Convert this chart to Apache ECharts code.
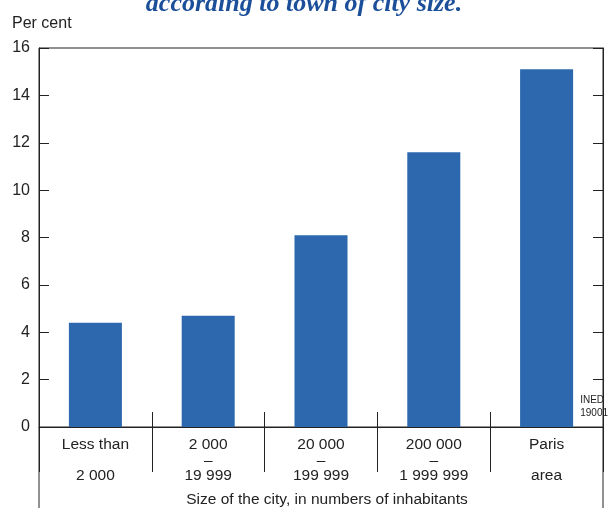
<!DOCTYPE html>
<html><head><meta charset="utf-8">
<script src="https://cdn.jsdelivr.net/npm/echarts@6/dist/echarts.min.js"></script>
<style>html,body{margin:0;padding:0;background:#fff}#c{width:608px;height:508px}</style>
</head><body><div id="c"></div>
<script>
const catTop = ['Less than', '2 000', '20 000', '200 000', 'Paris'];
const catMid = ['', '–', '–', '–', ''];
const catBottom = ['2 000', '19 999', '199 999', '1 999 999', 'area'];
const values = [4.4, 4.7, 8.1, 11.6, 15.1];
const yTicks = [0, 2, 4, 6, 8, 10, 12, 14, 16];
const titleText = 'according to town of city size.';
const yName = 'Per cent';
const xName = 'Size of the city, in numbers of inhabitants';
const sourceText = 'INED\n19001';

const categories = catTop.map((t, i) => t + '\n' + catMid[i] + '\n' + catBottom[i]);
const FONT = '"Liberation Sans", Arial, sans-serif';
const INK = '#222';

const chart = echarts.init(document.getElementById('c'));
chart.setOption({
  animation: false,
  title: {
    text: titleText, left: 'center', top: -14,
    textStyle: { fontFamily: '"Liberation Serif", "DejaVu Serif", serif', fontStyle: 'italic', fontWeight: 'bold', fontSize: 26, color: '#1c4f9a' }
  },
  grid: { left: 39, right: 5, top: 48, bottom: 81, show: true, borderColor: INK, borderWidth: 1, backgroundColor: 'transparent', containLabel: false, outerBoundsMode: 'none' },
  xAxis: [
    {
      type: 'category', data: categories, position: 'bottom', boundaryGap: true,
      axisLine: { show: true, lineStyle: { color: INK, width: 1 } },
      axisTick: { show: true, inside: false, length: 45, lineStyle: { color: INK, width: 1 } },
      axisLabel: { color: INK, fontFamily: FONT, fontSize: 15.5, lineHeight: 15.5, margin: 10, interval: 0 },
      name: xName, nameLocation: 'middle', nameGap: 65, nameMoveOverlap: false,
      nameTextStyle: { color: INK, fontFamily: FONT, fontSize: 15.5, padding: [0, 0, 0, 12] }
    },
    {
      type: 'category', data: categories, position: 'bottom', boundaryGap: true,
      axisLine: { show: false },
      axisTick: { show: true, inside: true, length: 15, lineStyle: { color: INK, width: 1 } },
      axisLabel: { show: false }
    }
  ],
  yAxis: [
    {
      type: 'value', min: 0, max: 16, interval: 2, position: 'left',
      name: yName, nameLocation: 'end', nameGap: 16, nameMoveOverlap: false,
      nameTextStyle: { color: INK, fontFamily: FONT, fontSize: 16, align: 'left', padding: [0, 0, 0, -27] },
      axisLine: { show: true, lineStyle: { color: INK } },
      axisTick: { show: true, inside: true, length: 10, lineStyle: { color: INK } },
      axisLabel: { color: INK, fontFamily: FONT, fontSize: 16, margin: 9 },
      splitLine: { show: false }
    },
    {
      type: 'value', min: 0, max: 16, interval: 2, position: 'right',
      axisLine: { show: true, lineStyle: { color: INK } },
      axisTick: { show: true, inside: true, length: 10, lineStyle: { color: INK } },
      axisLabel: { show: false },
      splitLine: { show: false }
    }
  ],
  series: [{
    type: 'bar', data: values, barWidth: '47%', xAxisIndex: 0, yAxisIndex: 0,
    itemStyle: { color: '#2d68ae' }
  }]
});

// frame lines continuing below the axis at the outer category boundaries
const rect = chart.getModel().getComponent('grid', 0).coordinateSystem.getRect();
const bottomY = 508;
chart.setOption({
  graphic: [
    { type: 'line', shape: { x1: rect.x, y1: rect.y + rect.height, x2: rect.x, y2: bottomY }, style: { stroke: INK, lineWidth: 1 } },
    { type: 'line', shape: { x1: rect.x + rect.width, y1: rect.y + rect.height, x2: rect.x + rect.width, y2: bottomY }, style: { stroke: INK, lineWidth: 1 } },
    { type: 'text', right: 0, top: rect.y + rect.height - 33, style: { text: sourceText, fill: INK, font: '10px "Liberation Sans", Arial, sans-serif', align: 'right', lineHeight: 13 } }
  ]
});
</script>
</body></html>
